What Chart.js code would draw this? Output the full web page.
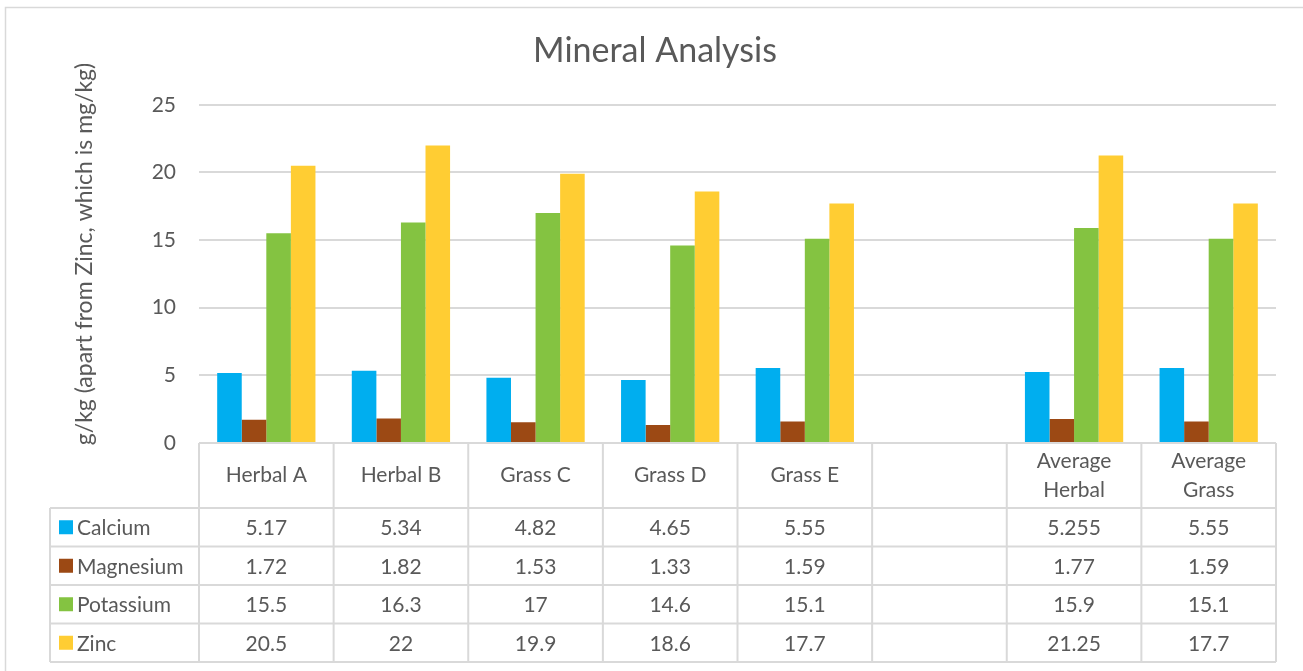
<!DOCTYPE html>
<html>
<head>
<meta charset="utf-8">
<script src="https://cdn.jsdelivr.net/npm/chart.js@4"></script>
<style>
  html, body { margin: 0; padding: 0; background: #fff; }
  #wrap { width: 1303px; height: 671px; position: relative; }
</style>
</head>
<body>
<div id="wrap"><canvas id="mineralChart"></canvas></div>
<script>
// categories (blank column kept as in the sheet)
const categories = ['Herbal A', 'Herbal B', 'Grass C', 'Grass D', 'Grass E', '', ['Average', 'Herbal'], ['Average', 'Grass']];

const calcium   = [5.17, 5.34, 4.82, 4.65, 5.55, null, 5.255, 5.55];
const magnesium = [1.72, 1.82, 1.53, 1.33, 1.59, null, 1.77, 1.59];
const potassium = [15.5, 16.3, 17, 14.6, 15.1, null, 15.9, 15.1];
const zinc      = [20.5, 22, 19.9, 18.6, 17.7, null, 21.25, 17.7];

const seriesNames  = ['Calcium', 'Magnesium', 'Potassium', 'Zinc'];
const seriesColors = ['#00AEEF', '#9C4914', '#84C341', '#FFCD33'];

const yTicks = [0, 5, 10, 15, 20, 25];
const yTitle = 'g/kg (apart from Zinc, which is mg/kg)';

const FONT = 'Lato, "Noto Sans", sans-serif';
const TEXT = '#595959';
const LINE = '#D9D9D9';

// header height + 4 rows of the data table
const headerH = 65;
const rowH = 38.5;
const legendLeft = 50;

/*
  Draws the data table under the plot (category labels, legend keys, values)
*/
const dataTable = {
	id: 'dataTable',
	afterDraw(chart) {
		const ctx = chart.ctx;
		const area = chart.chartArea;
		const xs = chart.scales.x;
		const n = categories.length;
		const colW = (area.right - area.left) / n;
		const top = area.bottom;
		const rowsTop = top + headerH;
		const bottom = rowsTop + rowH * seriesNames.length;

		ctx.save();

		// outer chart border
		ctx.strokeStyle = LINE;
		ctx.lineWidth = 1.5;
		ctx.strokeRect(5.5, 7.5, chart.width + 10, chart.height + 10);

		// y axis title, rotated
		ctx.save();
		ctx.translate(85, 254);
		ctx.rotate(-Math.PI / 2);
		ctx.fillStyle = TEXT;
		ctx.font = '23px ' + FONT;
		ctx.textAlign = 'center';
		ctx.textBaseline = 'middle';
		ctx.fillText(yTitle, 0, 0);
		ctx.restore();

		ctx.strokeStyle = LINE;
		ctx.lineWidth = 2;
		ctx.beginPath();
		// top line (axis)
		ctx.moveTo(area.left, top);
		ctx.lineTo(area.right, top);
		// row lines
		for (let r = 0; r <= seriesNames.length; r++) {
			let y = rowsTop + r * rowH;
			ctx.moveTo(legendLeft, y);
			ctx.lineTo(area.right, y);
		}
		// column lines
		for (let c = 0; c <= n; c++) {
			let x = area.left + c * colW;
			ctx.moveTo(x, top);
			ctx.lineTo(x, bottom);
		}
		ctx.moveTo(legendLeft, rowsTop);
		ctx.lineTo(legendLeft, bottom);
		ctx.stroke();

		ctx.fillStyle = TEXT;
		ctx.font = '21px ' + FONT;
		ctx.textAlign = 'center';
		ctx.textBaseline = 'middle';

		// category labels
		categories.forEach((cat, i) => {
			let cx = xs.getPixelForValue(i);
			let lines = Array.isArray(cat) ? cat : [cat];
			let lh = 29;
			let y0 = top + headerH / 2 - (lines.length - 1) * lh / 2;
			lines.forEach((t, k) => ctx.fillText(t, cx, y0 + k * lh));
		});

		// rows
		const data = [calcium, magnesium, potassium, zinc];
		seriesNames.forEach((name, r) => {
			let cy = rowsTop + r * rowH + rowH / 2;
			ctx.fillStyle = seriesColors[r];
			ctx.fillRect(59, cy - 7, 14, 14);
			ctx.fillStyle = TEXT;
			ctx.textAlign = 'left';
			ctx.fillText(name, 77, cy + 1);
			ctx.textAlign = 'center';
			data[r].forEach((v, i) => {
				if (v === null) return;
				ctx.fillText(String(v), xs.getPixelForValue(i), cy + 1);
			});
		});

		ctx.restore();
	}
};

const datasets = [calcium, magnesium, potassium, zinc].map((d, i) => ({
	label: seriesNames[i],
	data: d,
	backgroundColor: seriesColors[i],
	borderWidth: 0,
	categoryPercentage: 0.73,
	barPercentage: 1.0
}));

const mineralChart = new Chart(document.getElementById('mineralChart'), {
	type: 'bar',
	data: {
		labels: categories,
		datasets: datasets
	},
	options: {
		responsive: true,
		maintainAspectRatio: false,
		animation: false,
		layout: {
			padding: { top: 7, left: 34, right: 27, bottom: 228 }
		},
		scales: {
			x: {
				display: false
			},
			y: {
				min: 0,
				max: 25,
				afterBuildTicks(scale) {
					scale.ticks = yTicks.map(v => ({ value: v }));
				},
				afterFit(scale) {
					scale.width = 165;
				},
				border: { display: false },
				grid: {
					color: LINE,
					lineWidth: 2,
					drawTicks: false
				},
				ticks: {
					padding: 23,
					color: TEXT,
					font: { family: FONT, size: 21 }
				}
			}
		},
		plugins: {
			legend: { display: false },
			tooltip: { enabled: false },
			title: {
				display: true,
				text: 'Mineral Analysis',
				color: TEXT,
				font: { family: FONT, size: 34, weight: 'normal' },
				padding: { top: 24, bottom: 33 }
			}
		}
	},
	plugins: [dataTable]
});
</script>
</body>
</html>
